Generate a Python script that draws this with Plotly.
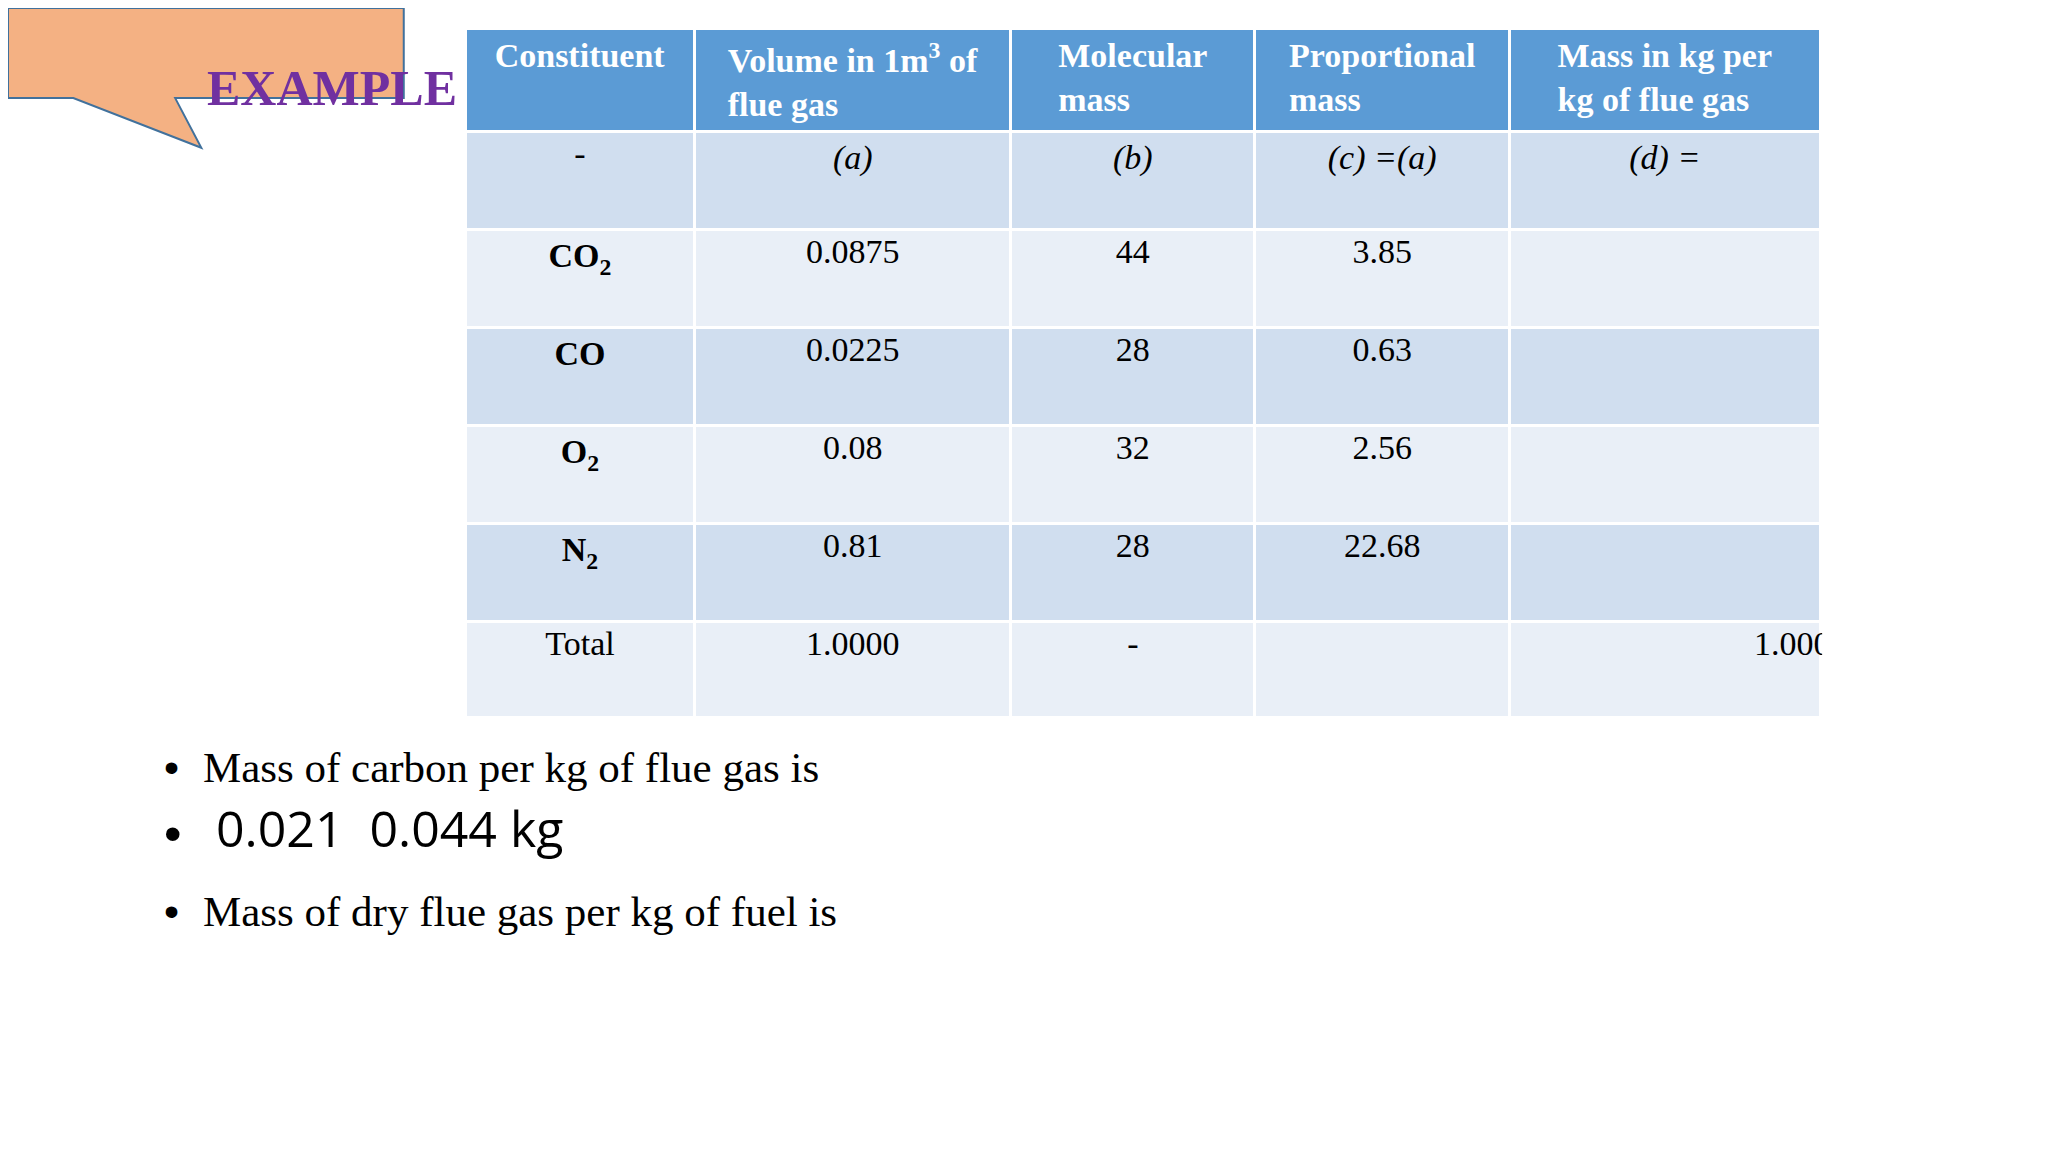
import plotly.graph_objects as go

# table content
headers = ["Constituent", "Volume in 1m<sup>3</sup> of<br>flue gas", "Molecular<br>mass",
           "Proportional<br>mass", "Mass in kg per<br>kg of flue gas"]
constituent = ["-", "<b>CO<sub>2</sub></b>", "<b>CO</b>", "<b>O<sub>2</sub></b>", "<b>N<sub>2</sub></b>", "Total"]
volume = ["<i>(a)</i>", "0.0875", "0.0225", "0.08", "0.81", "1.0000"]
mol_mass = ["<i>(b)</i>", "44", "28", "32", "28", "-"]
prop_mass = ["<i>(c) =(a)</i>", "3.85", "0.63", "2.56", "22.68", ""]
mass_kg = ["<i>(d) =</i>", "", "", "", "", "1.0000"]

W, H = 2048, 1152


def px_x(x):
    return x / 1568


def px_y(y):
    return 1 - y / 882


row_colors = ["#D0DEEF", "#E9EFF7"] * 3
serif = "Liberation Serif"

# last column total sits at the right edge; align is per column only, so pad it
mass_col = [v if v != "1.0000" else "\u2003" * 8 + v for v in mass_kg]

fig = go.Figure(go.Table(
    domain=dict(x=[px_x(350), px_x(1388)], y=[px_y(542), px_y(16)]),
    columnwidth=[176, 242, 187, 195, 238],
    header=dict(
        values=["<b>%s</b>" % h for h in headers],
        fill_color="#5B9BD5",
        line=dict(color="white", width=3),
        font=dict(family=serif, size=34, color="white"),
        align="center",
        height=97,
    ),
    cells=dict(
        values=[constituent, volume, mol_mass, prop_mass, mass_col],
        fill_color=[row_colors] * 5,
        line=dict(color="white", width=3),
        font=dict(family=serif, size=34, color="black"),
        align="center",
        height=98,
    ),
))

# speech-bubble callout
x0, x1, yt, yb = px_x(0), px_x(303), px_y(0), px_y(69)
path = ("M %f,%f L %f,%f L %f,%f L %f,%f L %f,%f L %f,%f L %f,%f Z" % (
    x0, yt, x1, yt, x1, yb, px_x(128), yb, px_x(148), px_y(107), px_x(50), yb, x0, yb))
fig.add_shape(type="path", path=path, xref="paper", yref="paper",
              fillcolor="#F4B183", line=dict(color="#41719C", width=2))
fig.add_annotation(text="<b>EXAMPLE</b>", x=px_x(151), y=px_y(38), xref="paper", yref="paper",
                   showarrow=False, font=dict(family=serif, size=50, color="#7030A0"))

bullets = [
    ("Mass of carbon per kg of flue gas is", 601, serif, 43),
    (" 0.021  0.044 kg", 655, "Open Sans", 50),
    ("Mass of dry flue gas per kg of fuel is", 711, serif, 43),
]
for txt, y, fam, size in bullets:
    fig.add_annotation(text="•", x=px_x(118), y=px_y(y), xref="paper", yref="paper",
                       xanchor="left", showarrow=False,
                       font=dict(family="Liberation Sans", size=size, color="black"))
    fig.add_annotation(text=txt, x=px_x(148), y=px_y(y), xref="paper", yref="paper",
                       xanchor="left", showarrow=False,
                       font=dict(family=fam, size=size, color="black"))

fig.update_layout(width=W, height=H, margin=dict(l=0, r=0, t=0, b=0),
                  paper_bgcolor="white", plot_bgcolor="white")
fig.write_html("out.html")
